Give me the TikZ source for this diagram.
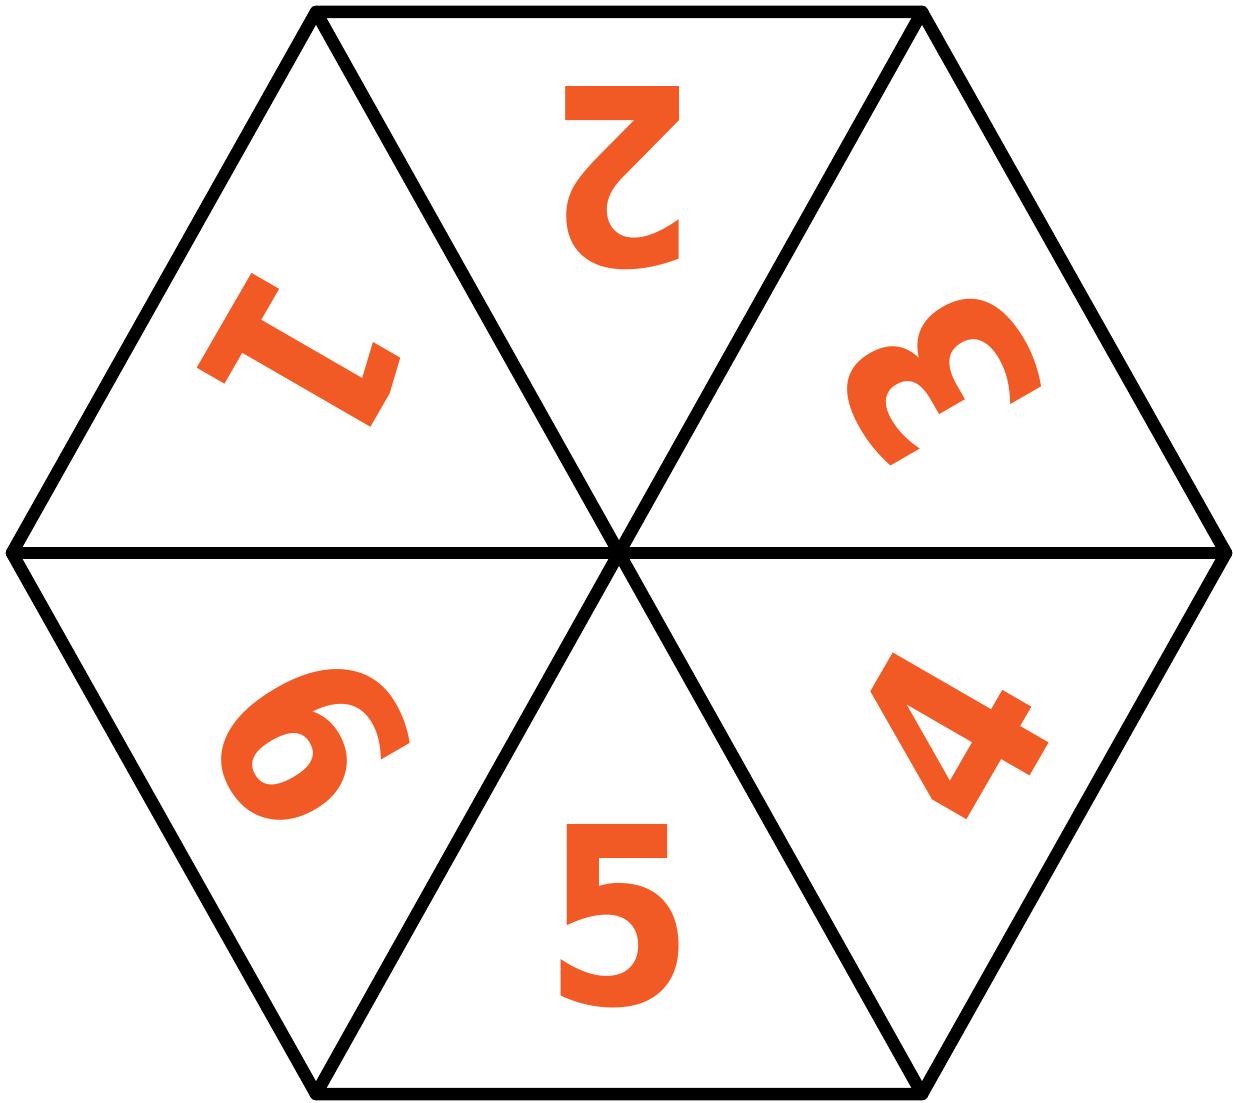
\documentclass[tikz,border=0pt]{standalone}
\usepackage{fontspec}
\setmainfont{DejaVu Sans}
\newfontfamily\digitfont[FakeStretch=0.87]{DejaVu Sans}
\definecolor{digitorange}{HTML}{F15A24}
\begin{document}
\begin{tikzpicture}[x=1pt,y=-1pt,
  edge/.style={line width=12.5pt, line cap=round, line join=round, black},
  digit/.style={inner sep=0pt, text=digitorange, font=\digitfont\fontsize{247}{250}\selectfont\bfseries}]
\useasboundingbox (0,0) rectangle (1233,1102);
\coordinate (L) at (12,553);
\coordinate (TL) at (316,12);
\coordinate (TR) at (922,12);
\coordinate (R) at (1226,553);
\coordinate (BR) at (922,1094);
\coordinate (BL) at (316,1094);
\coordinate (C) at (619,553);
\draw[edge] (L) -- (TL) -- (TR) -- (R) -- (BR) -- (BL) -- cycle;
\draw[edge] (L) -- (R);
\draw[edge] (TL) -- (BR);
\draw[edge] (TR) -- (BL);
\node[digit, rotate=-120] (d1) at (305,361) {1};
\node[digit, rotate=180] (d2) at (622,178) {2};
\node[digit, rotate=120] (d3) at (938,377) {3};
\node[digit, rotate=60] (d4) at (950,735) {4};
\node[digit] (d5) at (619,916) {5};
\node[digit, rotate=-60] (d6) at (310,740) {6};
\end{tikzpicture}
\end{document}
